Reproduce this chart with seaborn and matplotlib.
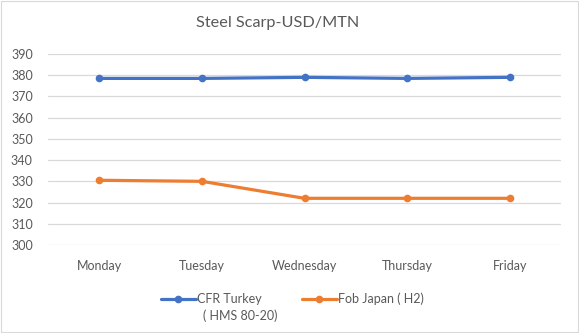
import matplotlib
matplotlib.use("Agg")
import matplotlib.pyplot as plt
import seaborn as sns
import pandas as pd

days = ["Monday", "Tuesday", "Wednesday", "Thursday", "Friday"]
cfr_turkey = [378.5, 378.5, 379, 378.5, 379]
fob_japan = [330.5, 330, 322, 322, 322]
series_names = ["CFR Turkey", "Fob Japan ( H2)"]
cfr_grade = "( HMS 80-20)"
y_ticks = list(range(300, 391, 10))

df = pd.DataFrame({
    "day": days * 2,
    "price": cfr_turkey + fob_japan,
    "series": [series_names[0]] * len(days) + [series_names[1]] * len(days),
})
df["x"] = df["day"].map({d: i for i, d in enumerate(days)})

sns.set_theme(style="white")
plt.rcParams["font.family"] = ["Lato", "DejaVu Sans"]
text_color = "#595959"

fig = plt.figure(figsize=(5.79, 3.33), dpi=100)
ax = fig.add_axes([48 / 579, 1 - 245 / 333, (561 - 48) / 579, (245 - 54) / 333])

sns.lineplot(data=df, x="x", y="price", hue="series", hue_order=series_names,
             palette=["#4472C4", "#ED7D31"], marker="o", markersize=5.5,
             markeredgewidth=0, linewidth=2.3, ax=ax)

ax.set_xlim(-0.5, len(days) - 0.5)
ax.set_ylim(300, 390)
ax.set_yticks(y_ticks)
ax.set_xticks(range(len(days)))
ax.set_xticklabels(days)
ax.set_xlabel("")
ax.set_ylabel("")
ax.grid(axis="y", color="#d9d9d9", linewidth=0.9)
ax.set_axisbelow(True)
for s in ax.spines.values():
    s.set_visible(False)
ax.tick_params(axis="both", length=0, labelsize=9, colors=text_color)
ax.tick_params(axis="y", pad=11)
ax.tick_params(axis="x", pad=11)

fig.text(278 / 579, 1 - 23 / 333, "Steel Scarp-USD/MTN", fontsize=11.7,
         color=text_color, ha="center", va="center")

handles, labels = ax.get_legend_handles_labels()
leg = ax.legend(handles, labels, loc="upper center", bbox_to_anchor=(0.4766, -0.19),
                ncol=2, frameon=False, fontsize=9, labelcolor=text_color,
                handlelength=2.8, handletextpad=0.1, columnspacing=3.2)

# second line of the CFR Turkey legend entry
fig.canvas.draw()
bb = leg.get_texts()[0].get_window_extent().transformed(fig.transFigure.inverted())
fig.text(bb.x0 + 6 / 579, bb.y0 - 4 / 333, cfr_grade, fontsize=9, color=text_color,
         ha="left", va="top")

fig.patches.append(plt.Rectangle((0.002, 0.003), 0.996, 0.994, transform=fig.transFigure,
                                 fill=False, edgecolor="#d9d9d9", linewidth=0.8))

fig.savefig("out.png", dpi=100)
